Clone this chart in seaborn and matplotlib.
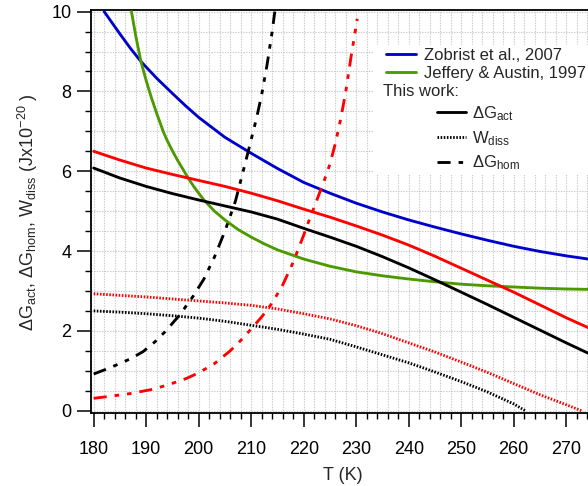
import numpy as np
import pandas as pd
import matplotlib
matplotlib.use('Agg')
import matplotlib.pyplot as plt
from matplotlib.lines import Line2D
from matplotlib.patches import Rectangle
from matplotlib.ticker import MultipleLocator
import seaborn as sns

# Zobrist et al., 2007
T_zob = [182, 183.5, 185, 187, 189, 192, 195, 197.5, 200, 205, 210, 215, 220, 225, 230, 235, 240, 245, 250, 255, 260, 265, 270, 274.2]
G_zob = [10.0, 9.72, 9.44, 9.08, 8.75, 8.33, 7.95, 7.64, 7.35, 6.85, 6.45, 6.07, 5.72, 5.45, 5.2, 4.98, 4.78, 4.6, 4.43, 4.27, 4.12, 3.99, 3.88, 3.8]

# Jeffery & Austin, 1997
T_ja = [187.2, 188, 189, 190, 191, 192, 193.3, 194, 195, 196, 197, 198, 199, 200, 201, 203, 205, 207.5, 210, 212.5, 215, 220, 225, 230, 235, 240, 245, 250, 255, 260, 265, 270, 274.2]
G_ja = [10.0, 9.4, 8.75, 8.27, 7.84, 7.45, 6.98, 6.77, 6.51, 6.27, 6.05, 5.83, 5.63, 5.45, 5.28, 5.0, 4.78, 4.54, 4.35, 4.18, 4.03, 3.8, 3.62, 3.48, 3.38, 3.3, 3.23, 3.17, 3.13, 3.1, 3.07, 3.05, 3.04]

# This work: dG_act
T_act = [180, 185, 190, 195, 200, 205, 210, 215, 220, 225, 230, 235, 240, 245, 250, 255, 260, 265, 270, 274.2]
G_act_black = [6.08, 5.83, 5.62, 5.44, 5.28, 5.13, 4.98, 4.8, 4.57, 4.35, 4.12, 3.86, 3.58, 3.28, 2.97, 2.66, 2.34, 2.02, 1.7, 1.44]
G_act_red = [6.5, 6.28, 6.08, 5.92, 5.77, 5.62, 5.45, 5.26, 5.05, 4.85, 4.63, 4.4, 4.15, 3.87, 3.57, 3.27, 2.97, 2.65, 2.33, 2.08]

# This work: W_diss
T_wb = [180, 185, 190, 195, 200, 205, 210, 215, 220, 225, 230, 235, 240, 245, 250, 255, 260, 262.2]
W_black = [2.5, 2.47, 2.43, 2.38, 2.32, 2.24, 2.14, 2.04, 1.92, 1.79, 1.6, 1.4, 1.2, 0.97, 0.73, 0.47, 0.17, 0.0]
T_wr = [180, 185, 190, 195, 200, 205, 210, 215, 220, 225, 230, 235, 240, 245, 250, 255, 260, 265, 270, 272.9]
W_red = [2.93, 2.89, 2.85, 2.8, 2.75, 2.7, 2.64, 2.55, 2.43, 2.3, 2.13, 1.93, 1.7, 1.47, 1.22, 0.96, 0.68, 0.4, 0.15, 0.0]

# This work: dG_hom
T_hb = [180, 182, 184.4, 187, 189.4, 191.7, 193.6, 196.4, 199, 201, 203, 205, 207, 209, 211, 212, 213, 214, 214.5]
H_black = [0.92, 1.02, 1.15, 1.3, 1.48, 1.73, 1.98, 2.4, 2.88, 3.3, 3.85, 4.5, 5.25, 6.27, 7.32, 7.92, 8.65, 9.5, 10.0]
T_hr = [180, 183, 187, 191, 194, 197.7, 200, 203, 206, 208, 210, 212, 214, 216, 218, 220, 221, 222, 223, 224, 225, 226, 227, 228, 229, 230.2]
H_red = [0.31, 0.36, 0.43, 0.53, 0.64, 0.81, 0.95, 1.18, 1.5, 1.76, 2.05, 2.35, 2.7, 3.15, 3.72, 4.4, 4.76, 5.1, 5.45, 5.8, 6.18, 6.68, 7.28, 7.98, 8.85, 9.82]

x_ticks = [180, 190, 200, 210, 220, 230, 240, 250, 260, 270]
y_ticks = [0, 2, 4, 6, 8, 10]

BLUE = '#0000cc'
GREEN = '#4c9a00'
RED = '#ff0000'
BLACK = '#000000'
DOT = (0, (0.55, 0.55))
DASHDOT = (0, (4.6, 2.8, 1.6, 2.8, 1.6, 2.8))

sns.set_theme(style='ticks')
plt.rcParams['font.family'] = ['Liberation Sans', 'DejaVu Sans']
plt.rcParams['mathtext.fontset'] = 'custom'
plt.rcParams['mathtext.rm'] = 'Liberation Sans'
plt.rcParams['mathtext.it'] = 'Liberation Sans'
plt.rcParams['mathtext.default'] = 'regular'

fig = plt.figure(figsize=(5.88, 4.86), dpi=100)
ax = fig.add_axes([91 / 588, 72.7 / 486, 497 / 588, 403.3 / 486])

lw = 2.05
series = [
    (T_zob, G_zob, BLUE, '-'),
    (T_ja, G_ja, GREEN, '-'),
    (T_act, G_act_red, RED, '-'),
    (T_act, G_act_black, BLACK, '-'),
    (T_wr, W_red, RED, DOT),
    (T_wb, W_black, BLACK, DOT),
    (T_hr, H_red, RED, DASHDOT),
    (T_hb, H_black, BLACK, DASHDOT),
]
for t, g, c, ls in series:
    sns.lineplot(x=t, y=g, ax=ax, color=c, lw=lw, linestyle=ls,
                 estimator=None, sort=False, zorder=3)

ax.set_xlim(179.49, 274.15)
ax.set_ylim(-0.065, 10.04)
ax.set_xticks(x_ticks)
ax.set_yticks(y_ticks)
ax.xaxis.set_minor_locator(MultipleLocator(2))
ax.yaxis.set_minor_locator(MultipleLocator(0.5))
ax.set_axisbelow(True)
ax.grid(True, which='both', color='#c8c8c8', lw=0.8, linestyle=(0, (1.2, 1.2)))
ax.tick_params(which='major', direction='out', length=10, width=1.1, labelsize=13,
               colors='black')
ax.tick_params(axis='x', which='major', pad=10)
ax.tick_params(axis='y', which='major', pad=4)
ax.tick_params(which='minor', direction='out', length=4.5, width=1.0, colors='black')
for s in ['left', 'bottom', 'top']:
    ax.spines[s].set_linewidth(1.3)
    ax.spines[s].set_color('black')
ax.spines['right'].set_visible(False)

ax.set_xlabel('T (K)', fontsize=13)
ax.set_ylabel(r'ΔG$_{act}$, ΔG$_{hom}$, W$_{diss}$ (Jx10$^{-20}$ )', fontsize=13)
ax.xaxis.set_label_coords(0.507, -0.133)
ax.yaxis.set_label_coords(-0.103, 0.5)

# white background behind the legend block
ax.add_patch(Rectangle((0.567, 0.591), 0.45, 0.322, transform=ax.transAxes,
                       facecolor='white', edgecolor='none', zorder=1))

h1 = [Line2D([], [], color=BLUE, lw=lw), Line2D([], [], color=GREEN, lw=lw)]
leg1 = ax.legend(h1, ['Zobrist et al., 2007', 'Jeffery & Austin, 1997'],
                 loc='upper left', bbox_to_anchor=(0.5936, 0.905), frameon=False,
                 fontsize=12, borderpad=0, borderaxespad=0, handlelength=1.8,
                 handletextpad=0.46, labelspacing=0.17)
ax.add_artist(leg1)

ax.text(0.5875, 0.799, 'This work:', transform=ax.transAxes, fontsize=12,
        ha='left', va='center', zorder=5)

h2 = [Line2D([], [], color=BLACK, lw=lw),
      Line2D([], [], color=BLACK, lw=lw, linestyle=DOT),
      Line2D([], [], color=BLACK, lw=lw, linestyle=DASHDOT)]
ax.legend(h2, ['ΔG$_{act}$', 'W$_{diss}$', 'ΔG$_{hom}$'],
          loc='upper left', bbox_to_anchor=(0.6956, 0.7666), frameon=False,
          fontsize=12, borderpad=0, borderaxespad=0, handlelength=1.75,
          handletextpad=0.36, labelspacing=0.36)

fig.savefig('out.png', dpi=100)
